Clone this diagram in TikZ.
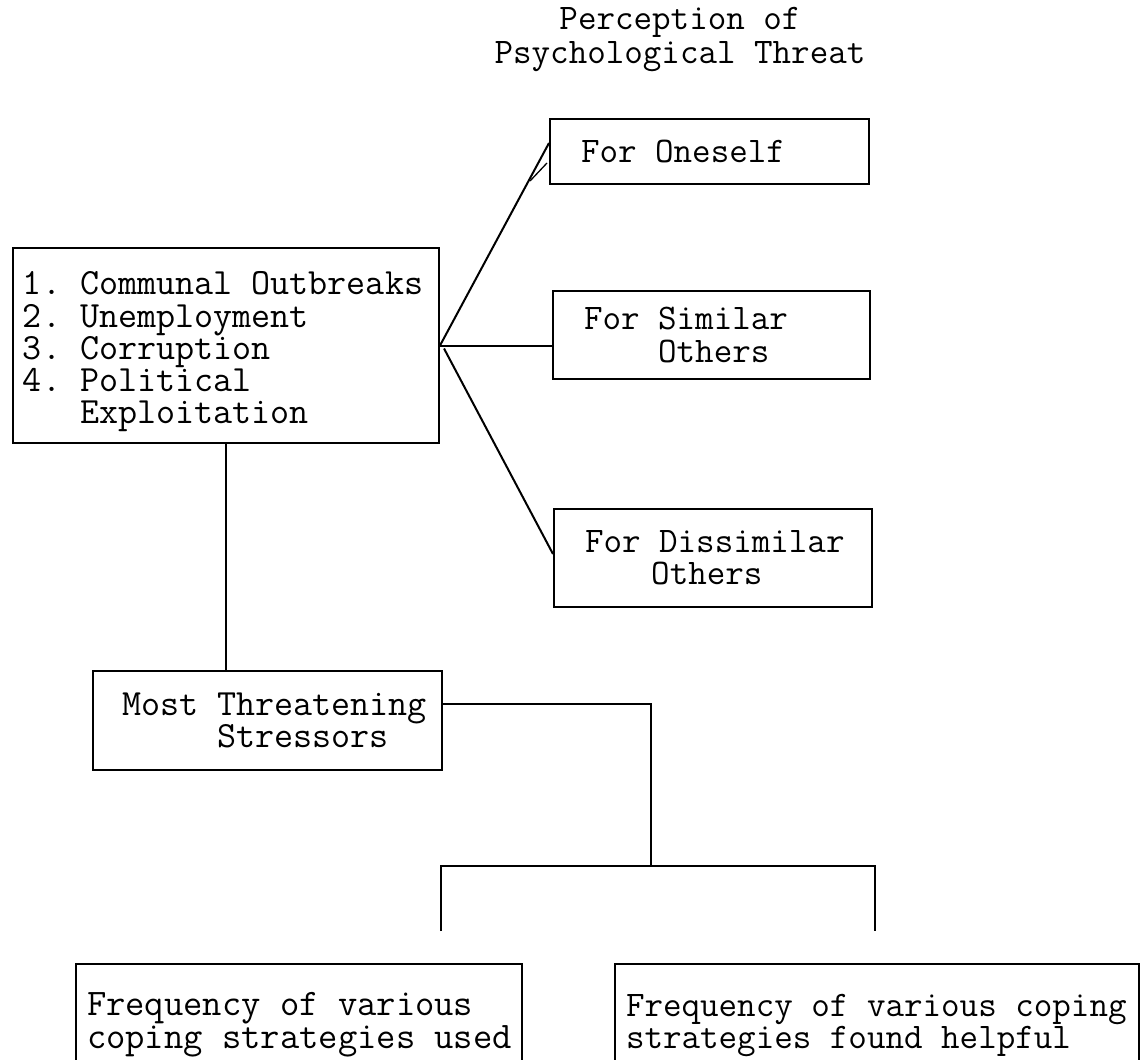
\documentclass[tikz,border=0pt]{standalone}
\usepackage{fontspec}
\usetikzlibrary{calc}
\newcommand\msp{\hphantom{0}}
\tikzset{
  box/.style={draw, line width=2pt, rectangle, anchor=north west, align=left, inner ysep=0pt},
  conn/.style={line width=2pt},
  txt/.style={font=\ttfamily\fontsize{36}{32.3}\selectfont},
  bigtxt/.style={font=\ttfamily\fontsize{37}{32.3}\selectfont}
}
\begin{document}
\begin{tikzpicture}[x=1pt,y=-1pt]
\useasboundingbox (0,0) rectangle (1141,1060);
\clip (0,0) rectangle (1141,1060);
% title
\node[align=center, inner sep=0pt, font=\ttfamily\fontsize{36}{34}\selectfont] (title) at (680,40) {\mbox{Perception\msp of}\\\mbox{Psychological\msp Threat}};
% boxes
\node[box, txt, text width=257pt, inner xsep=31pt, minimum height=65pt] (oneself) at (549,118) {\mbox{For\msp Oneself}};
\node[box, txt, text width=255pt, inner xsep=31pt, minimum height=88pt] (similar) at (552,290) {\mbox{For\msp Similar}\\\mbox{\msp\msp\msp\msp Others}};
\node[box, txt, text width=256pt, inner xsep=31pt, minimum height=98pt] (dissimilar) at (553,508) {\mbox{For\msp Dissimilar}\\\mbox{\hspace*{1.84em}Others}};
\node[box, bigtxt, text width=406pt, inner xsep=10pt, minimum height=195pt] (list) at (12,247) {\mbox{\rule{0pt}{36pt}1.\msp Communal\msp Outbreaks}\\\mbox{2.\msp Unemployment}\\\mbox{3.\msp Corruption}\\\mbox{4.\msp Political}\\\mbox{\msp\msp\msp Exploitation}};
\node[box, bigtxt, text width=291pt, inner xsep=29pt, minimum height=99pt] (mts) at (92,670) {\mbox{Most\msp Threatening}\\\mbox{\msp\msp\msp\msp\msp Stressors}};
\node[box, font=\ttfamily\fontsize{37.5}{32.5}\selectfont, text width=424pt, inner xsep=11pt, minimum height=113pt] (used) at (75,963) {\mbox{\rule{0pt}{32pt}Frequency\msp of\msp various}\\\mbox{coping\msp strategies\msp used}};
\node[box, font=\ttfamily\fontsize{36}{32.5}\selectfont, text width=502pt, inner xsep=11pt, minimum height=113pt] (helpful) at (614,963) {\mbox{\rule{0pt}{32pt}Frequency\msp of\msp various\msp coping}\\\mbox{strategies\msp found\msp helpful}};
% connectors
\draw[conn] (list.east) -- ([yshift=8.5pt]oneself.west);
\draw[line width=1.3pt] ([xshift=-19pt,yshift=-29.5pt]oneself.west) -- ([xshift=-2pt,yshift=-11.5pt]oneself.west);
\draw[conn] (list.east) -- (list.east -| similar.west);
\draw[conn] ([xshift=4pt,yshift=-3pt]list.east) -- ([yshift=4pt]dissimilar.west);
\draw[conn] (list.south) -- (list.south |- mts.north);
\coordinate (split) at (651,866);
\coordinate (bl) at (441,866);
\coordinate (br) at (875,866);
\coordinate (blend) at (441,931);
\coordinate (brend) at (875,931);
\draw[conn] ([yshift=16.5pt]mts.east) -| (split);
\draw[conn] (blend) -- (bl) -- (br) -- (brend);
\end{tikzpicture}
\end{document}
